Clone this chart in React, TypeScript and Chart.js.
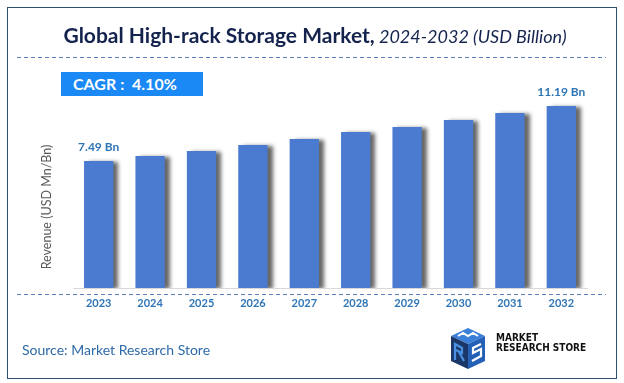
import React, { useEffect, useRef } from "react";
import { Chart, registerables } from "chart.js";

Chart.register(...registerables);

const years = ["2023", "2024", "2025", "2026", "2027", "2028", "2029", "2030", "2031", "2032"];
const revenue = [7.49, 7.83, 8.16, 8.57, 8.97, 9.44, 9.78, 10.25, 10.72, 11.19];
const labelledIndexes = [0, 9];
const axisMin = -1.057;
const axisMax = 12.5;
const titleMain = "Global High-rack Storage Market,";
const titleSub = " 2024-2032 (USD Billion)";
const cagrText = "CAGR :\u00A0 4.10%";
const yTitle = "Revenue (USD Mn/Bn)";
const sourceText = "Source: Market Research Store";

const BAR = "#4A7BD0";
const LABEL_BLUE = "#2E75B6";

export default function App() {
  const ref = useRef<HTMLCanvasElement | null>(null);

  useEffect(() => {
    if (!ref.current) return;
    const decor = {
      id: "decor",
      beforeDatasetsDraw(chart: any) {
        const ctx = chart.ctx;
        ctx.save();
        ctx.shadowColor = "rgba(0,0,0,0.6)";
        ctx.shadowBlur = 4;
        ctx.shadowOffsetX = 5;
        ctx.shadowOffsetY = 1;
      },
      afterDatasetsDraw(chart: any) {
        const ctx = chart.ctx;
        ctx.restore();
        const meta = chart.getDatasetMeta(0);
        ctx.save();
        ctx.font = "bold 12px Lato";
        ctx.fillStyle = LABEL_BLUE;
        ctx.textAlign = "center";
        ctx.textBaseline = "middle";
        labelledIndexes.forEach((i) => {
          const el = meta.data[i];
          ctx.fillText(revenue[i].toFixed(2) + " Bn", el.x, el.y - 13.5);
        });
        ctx.restore();
      },
      afterDraw(chart: any) {
        const ctx = chart.ctx;
        ctx.save();
        ctx.strokeStyle = "#5B80B8";
        ctx.lineWidth = 1;
        ctx.setLineDash([4, 3]);
        ctx.beginPath();
        ctx.moveTo(17, 57.5);
        ctx.lineTo(606, 57.5);
        ctx.moveTo(17, 294.5);
        ctx.lineTo(606, 294.5);
        ctx.stroke();
        ctx.restore();
      },
    };
    const chart = new Chart(ref.current, {
      type: "bar",
      data: {
        labels: years,
        datasets: [
          {
            data: revenue,
            base: axisMin,
            backgroundColor: BAR,
            borderWidth: 0,
            barPercentage: 0.57,
            categoryPercentage: 1,
          } as any,
        ],
      },
      options: {
        animation: false,
        responsive: false,
        maintainAspectRatio: false,
        layout: { padding: { left: 73, right: 37, top: 86.5, bottom: 65 } },
        plugins: { legend: { display: false }, tooltip: { enabled: false }, title: { display: false } },
        scales: {
          x: {
            grid: { display: false, drawTicks: false, tickLength: 0 },
            border: { display: true, color: "#D9D9D9", width: 1 },
            afterFit(scale: any) {
              scale.height = 30;
            },
            ticks: {
              color: LABEL_BLUE,
              font: { family: "Lato", weight: "bold", size: 11 },
              padding: 9,
              maxRotation: 0,
              autoSkip: false,
            },
          },
          y: { display: false, min: axisMin, max: axisMax },
        },
      },
      plugins: [decor],
    });
    return () => chart.destroy();
  }, []);

  return (
    <div style={{ position: "absolute", left: 0, top: 0, width: 624, height: 383, background: "#fff", fontFamily: "Lato" }}>
      <canvas ref={ref} width={624} height={383} style={{ position: "absolute", left: 0, top: 0, width: 624, height: 383 }} />
      <div style={{ position: "absolute", left: 7, top: 7, width: 608, height: 370, border: "1.5px solid #2F4F72", boxSizing: "content-box", pointerEvents: "none" }} />
      <div style={{ position: "absolute", left: 0, width: 630, top: 22, height: 26, lineHeight: "26px", textAlign: "center", color: "#13234D", whiteSpace: "nowrap" }}>
        <span style={{ fontWeight: 700, fontSize: 21 }}>{titleMain}</span>
        <span style={{ fontStyle: "italic", fontSize: 18 }}>{titleSub}</span>
      </div>
      <div style={{ position: "absolute", left: 61, top: 72, width: 142, height: 24, background: "#1A88F5", color: "#fff", fontWeight: 700, fontSize: 16, lineHeight: "24px", paddingLeft: 12, boxSizing: "border-box", whiteSpace: "nowrap" }}>
        {cagrText}
      </div>
      <div style={{ position: "absolute", left: 47 - 80, top: 207 - 8, width: 160, height: 16, lineHeight: "16px", textAlign: "center", transform: "rotate(-90deg)", color: "#595959", fontSize: 12.5, whiteSpace: "nowrap" }}>
        {yTitle}
      </div>
      <div style={{ position: "absolute", left: 22, top: 341, height: 18, lineHeight: "18px", color: "#2E6AA8", fontSize: 14, whiteSpace: "nowrap" }}>
        {sourceText}
      </div>
      <svg style={{ position: "absolute", left: 449, top: 327 }} width={38} height={43} viewBox="0 0 38 43">
        <polygon points="19,1 36,9 19,17 2,9" fill="#3C7FD8" />
        <polygon points="2,9 19,17 19,42 2,34" fill="#1B3768" />
        <polygon points="19,17 36,9 36,34 19,42" fill="#2460B5" />
        <polyline points="9,9 14,6 19,9 24,6 29,9" stroke="#fff" strokeWidth={2} fill="none" />
        <path d="M6,33 L6,17 L13,21 L13,26 L7,23 M10,25 L15,34" stroke="#4A90E2" strokeWidth={2.2} fill="none" />
        <path d="M32,17 L24,21 L24,26 L32,22 L32,29 L23,34" stroke="#fff" strokeWidth={2.2} fill="none" />
      </svg>
      <div style={{ position: "absolute", left: 496, top: 333, fontFamily: "'DejaVu Sans Condensed', 'DejaVu Sans'", fontStretch: "condensed", fontWeight: 700, fontSize: 10, lineHeight: "10px", color: "#111", whiteSpace: "nowrap" }}>
        <div>MARKET</div>
        <div>RESEARCH STORE</div>
      </div>
    </div>
  );
}
